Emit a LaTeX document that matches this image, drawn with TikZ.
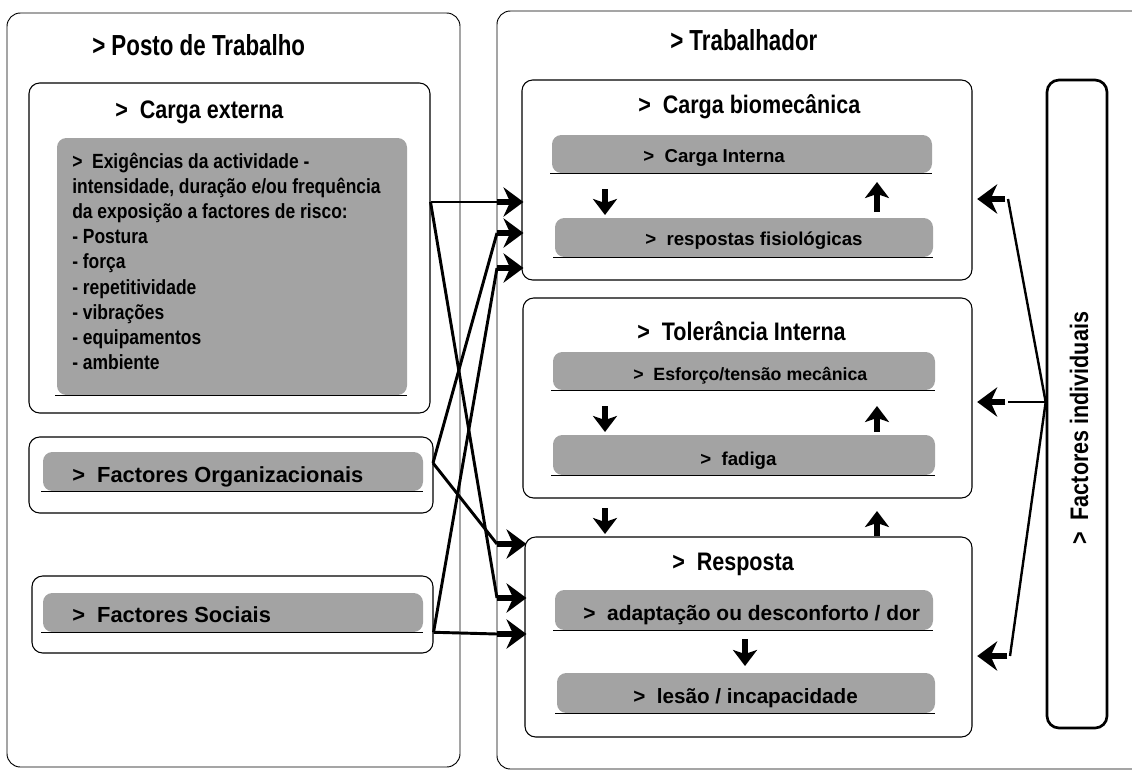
\documentclass[tikz,border=0pt]{standalone}
\usepackage{fontspec}
\setmainfont{Liberation Sans}
\newfontfamily\tfont[FakeStretch=0.77]{Liberation Sans}
\newfontfamily\sfont[FakeStretch=0.85]{Liberation Sans}
\usetikzlibrary{arrows.meta,fit,calc}
\definecolor{barfill}{gray}{0.64}
\begin{document}
\begin{tikzpicture}[x=0.75pt,y=-0.75pt,
  outerbox/.style={draw, line width=0.7pt, rounded corners=10pt, inner sep=0pt},
  box/.style={draw, line width=0.8pt, rounded corners=8pt, inner sep=0pt},
  fibox/.style={draw, line width=2pt, rounded corners=9pt, inner sep=0pt},
  bar/.style={fill=barfill, rounded corners=7pt, inner sep=0pt},
  uline/.style={line width=1.1pt},
  ttl/.style={font=\tfont\bfseries\fontsize{21.75}{24}\selectfont, anchor=base west, inner sep=0pt},
  sub/.style={font=\sfont\bfseries\fontsize{19}{22}\selectfont, anchor=base west, inner sep=0pt},
  exig/.style={font=\sfont\bfseries\fontsize{15.4}{18}\selectfont, anchor=base west, inner sep=0pt},
  bigbar/.style={font=\bfseries\fontsize{16.4}{18}\selectfont, anchor=base west, inner sep=0pt},
  bartxt/.style={font=\bfseries\fontsize{14}{16}\selectfont, anchor=base west, inner sep=0pt},
  conn/.style={line width=2.2pt},
  headarrow/.style={line width=5pt, -{Stealth[length=15pt,width=22pt,inset=5pt]}},
  blk/.style={line width=5pt, -{Stealth[length=12pt,width=18pt,inset=3pt]}}
]
\useasboundingbox (0,0) rectangle (1132,772);

% outer boxes
\node[outerbox, fit={(7,13) (460,767)}] (lo) {};
\node[outerbox, fit={(497,11) (1160,769)}] (ro) {};

% left column boxes
\node[box, fit={(29,83) (430,413)}] (ce) {};
\node[box, fit={(29,437) (433,513)}] (og) {};
\node[box, fit={(32,576) (433,653)}] (so) {};

% right column boxes
\node[box, fit={(522,80) (972,280)}] (cb) {};
\node[box, fit={(523,298) (972,498)}] (ti) {};
\node[box, fit={(525,537) (972,737)}] (rs) {};
\node[fibox, fit={(1047,80) (1107,728)}] (fi) {};

% grey bars
\node[bar, fit={(57,138) (407,395)}] (ceg) {};
\node[bar, fit={(43,452) (423,491)}] (ogg) {};
\node[bar, fit={(43,593) (423,632)}] (sog) {};
\node[bar, fit={(552,135) (932,173)}] (ci) {};
\node[bar, fit={(555,218) (933,257)}] (rf) {};
\node[bar, fit={(553,352) (935,390)}] (et) {};
\node[bar, fit={(553,435) (935,475)}] (fa) {};
\node[bar, fit={(555,590) (933,630)}] (ad) {};
\node[bar, fit={(557,673) (935,713)}] (le) {};
\foreach \b in {ceg,ogg,sog,ci,rf,et,fa,ad,le}
  \draw[uline] ([xshift=-1pt]\b.south west) -- (\b.south east);

% titles
\node[ttl] (tpt) at (92,55) {> Posto de Trabalho};
\node[ttl] (ttr) at (670,50) {> Trabalhador};
\node[sub] (tce) at (115,118) {>\ \ Carga externa};
\node[sub] (tcb) at (638,113) {>\ \ Carga biomecânica};
\node[sub] (tti) at (637,340) {>\ \ Tolerância Interna};
\node[sub] (trs) at (672,570) {>\ \ Resposta};
\node[sub, rotate=90] (tfi) at (1088,545) {>\ \ Factores individuais};

% text in Carga externa bar
\foreach \t [count=\i] in {{>\ \ Exigências da actividade -},{intensidade, duração e/ou frequência},{da exposição a factores de risco:},{- Postura},{- força},{- repetitividade},{- vibrações},{- equipamentos},{- ambiente}}
  \node[exig] (ex\i) at (72,{168+25.2*(\i-1)}) {\t};

\node[bigbar] (tog) at (72,482) {>\ \ Factores Organizacionais};
\node[bigbar] (tso) at (72,622) {>\ \ Factores Sociais};

\node[bartxt] (tci) at (643,162) {>\ \ Carga Interna};
\node[bartxt] (trf) at (645,245) {>\ \ respostas fisiológicas};
\node[bartxt, font=\bfseries\fontsize{13.3}{16}\selectfont] (tet) at (633,380) {>\ \ Esforço/tensão mecânica};
\node[bartxt] (tfa) at (700,465) {>\ \ fadiga};
\node[bartxt, font=\bfseries\fontsize{15.7}{17}\selectfont] (tad) at (583,620) {>\ \ adaptação ou desconforto / dor};
\node[bartxt, font=\bfseries\fontsize{15.5}{17}\selectfont] (tle) at (633,703) {>\ \ lesão / incapacidade};

% small vertical arrows
\draw[blk] (605,189) -- (605,215);
\draw[blk] (877,212) -- (877,182);
\draw[blk] (605,406) -- (605,432);
\draw[blk] (877,432) -- (877,406);
\draw[blk] (605,508) -- (605,534);
\draw[blk] (877,536) -- (877,511);
\draw[blk] (745,639) -- (745,666);

% left connectors
\coordinate (a1) at (497,202);
\coordinate (a2) at (497,233);
\coordinate (a3) at (497,268);
\coordinate (b1) at (497,544);
\coordinate (b2) at (497,598);
\coordinate (b3) at (497,634);
\coordinate (ceo) at (ce.east |- a1);
\coordinate (ogo) at (433,463);
\coordinate (soo) at (so.east |- sog.south);

\draw[conn] (ceo) -- (a1);
\draw[conn] (ceo) -- (b2);
\draw[conn] (ogo) -- (a2);
\draw[conn] (ogo) -- (b1);
\draw[conn] (soo) -- (a3);
\draw[conn] (soo) -- (b3);
\foreach \c in {a1,a2,a3}
  \draw[headarrow, shorten >=-1.5pt] (\c) -- (cb.west |- \c);
\foreach \c in {b1,b2,b3}
  \draw[headarrow, shorten >=-1.5pt] (\c) -- (rs.west |- \c);

% right connectors
\coordinate (fiw) at (fi.west |- 0,402);
\coordinate (r1) at (1008,199);
\coordinate (r2) at (1008,402);
\coordinate (r3) at (1010,656);
\draw[conn, line width=1.8pt] (fiw) -- (r1);
\draw[conn, line width=1.8pt] (fiw) -- (r2);
\draw[conn, line width=1.8pt] (fiw) -- (r3);
\draw[headarrow, shorten >=3.5pt] ([xshift=-2pt]r1) -- (cb.east |- r1);
\draw[headarrow, shorten >=3.5pt] ([xshift=-2pt]r2) -- (ti.east |- r2);
\draw[headarrow, shorten >=3.5pt] ([xshift=-2pt]r3) -- (rs.east |- r3);
\end{tikzpicture}
\end{document}
